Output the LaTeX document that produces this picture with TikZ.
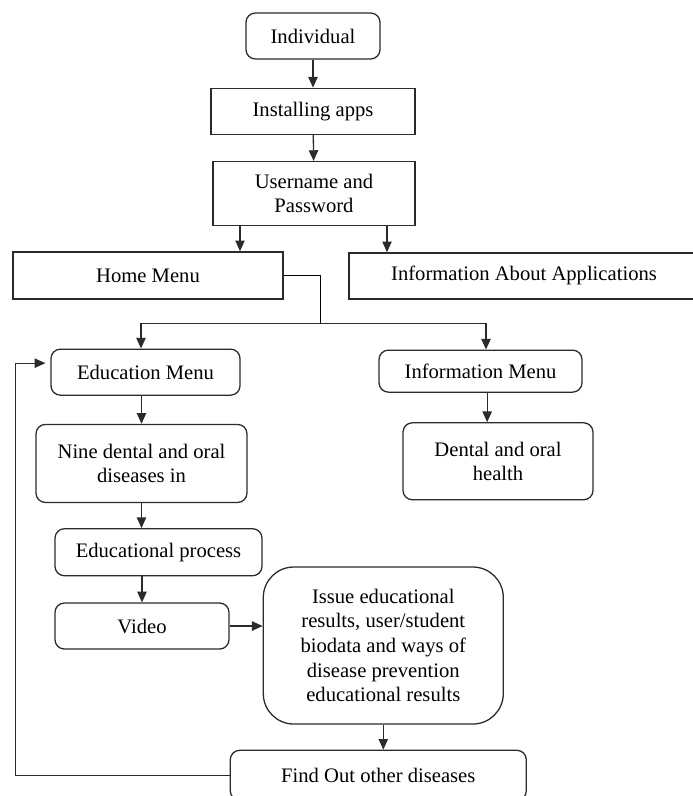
\documentclass[tikz,border=0pt]{standalone}
\usepackage{fontspec}
\setmainfont{Liberation Serif}
\usetikzlibrary{arrows.meta, positioning, calc}
\definecolor{lineCol}{HTML}{2B2B2B}

\begin{document}
\begin{tikzpicture}[
    node distance=0.8cm,
    font=\fontsize{17.6pt}{21pt}\selectfont,
    line width=1.1pt,
    box/.style={
        rectangle, draw=lineCol,
        align=center, inner sep=2pt
    },
    menu/.style={
        rectangle, rounded corners=8pt,
        draw=lineCol, align=center, inner sep=2pt
    },
    arrow/.style={
        -{Triangle[length=3.2mm,width=2.8mm]},
        draw=lineCol, line width=1.1pt
    }
]
    \useasboundingbox (0,0) rectangle (20.76,-23.88);

    \node[menu, minimum width=4.02cm, minimum height=1.38cm] (indiv) at (9.39,-1.08) {Individual};
    \node[box, below=0.84cm of indiv, minimum width=6.12cm, minimum height=1.38cm] (install) {Installing apps};
    \node[box, below=0.78cm of install, xshift=0.03cm, minimum width=6.06cm, minimum height=1.92cm] (user) {Username and\\Password};

    \node[box, below=0.75cm of user, xshift=-4.98cm, minimum width=8.1cm, minimum height=1.41cm] (home) {Home Menu};
    \node[box, below=0.78cm of user, xshift=6.3cm, minimum width=10.5cm, minimum height=1.38cm] (apps) {Information About Applications};

    \node[menu, below=1.47cm of home, xshift=-0.075cm, minimum width=5.67cm, minimum height=1.38cm] (edu) {Education Menu};
    \node[menu, below=1.5cm of apps, xshift=-1.305cm, minimum width=6.09cm, minimum height=1.26cm] (infomenu) {Information Menu};

    \node[menu, below=0.84cm of edu, xshift=-0.12cm, minimum width=6.33cm, minimum height=2.34cm] (nine) {Nine dental and oral\\diseases in};
    \node[menu, below=0.88cm of infomenu, xshift=0.525cm, minimum width=5.7cm, minimum height=2.31cm] (dental) {Dental and oral\\health};

    \node[menu, below=0.75cm of nine, xshift=0.51cm, minimum width=6.21cm, minimum height=1.41cm] (eduproc) {Educational process};
    \node[menu, below=0.78cm of eduproc, xshift=-0.495cm, minimum width=5.22cm, minimum height=1.38cm] (video) {Video};
    \node[menu, rounded corners=26pt, right=0.99cm of video, yshift=-0.585cm, minimum width=7.2cm, minimum height=4.71cm] (issue) {Issue educational\\results, user/student\\biodata and ways of\\disease prevention\\educational results};
    \node[menu, below=0.75cm of issue, xshift=-0.15cm, minimum width=8.88cm, minimum height=1.5cm] (find) {Find Out other diseases};

    \draw[arrow] (indiv) -- (install);
    \draw[arrow] (install) -- (user);

    \coordinate (uL) at ([xshift=-2.22cm]user.south);
    \coordinate (uR) at ([xshift=2.19cm]user.south);
    \draw[arrow] (uL) -- (uL |- home.north);
    \draw[arrow] (uR) -- (uR |- apps.north);

    \coordinate (split) at ($(home.east)+(1.11,-1.44)$);
    \draw (home.east) -| (split);
    \draw[arrow] (split) -| ([xshift=-0.135cm]edu.north);
    \draw[arrow] (split) -| ([xshift=0.165cm]infomenu.north);

    \coordinate (iD) at ([xshift=0.2cm]infomenu.south);
    \draw[arrow] (edu.south -| nine.north) -- (nine.north);
    \draw[arrow] (iD) -- (iD |- dental.north);
    \draw[arrow] (nine.south) -- (nine.south |- eduproc.north);
    \draw[arrow] (video.north |- eduproc.south) -- (video.north);
    \draw[arrow] (video.east) -- (video.east -| issue.west);
    \draw[arrow] (issue.south) -- (issue.south |- find.north);

    \coordinate (back) at ([xshift=-6.42cm]find.west);
    \draw[arrow] (find.west) -- (back) |- ([xshift=-0.15cm,yshift=0.27cm]edu.west);
\end{tikzpicture}
\end{document}
